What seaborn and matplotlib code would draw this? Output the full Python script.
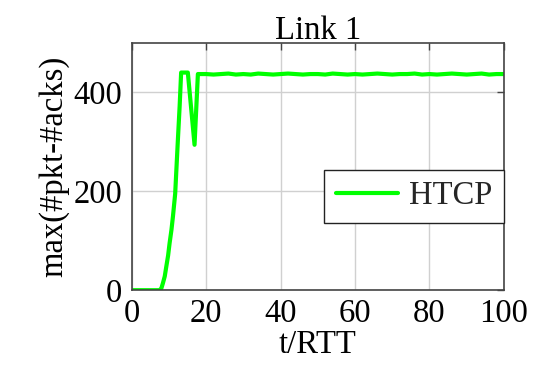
import matplotlib
matplotlib.use("Agg")
import matplotlib.pyplot as plt
import seaborn as sns
import pandas as pd

# data
t_vals = [0, 2, 4, 6, 7.5, 8.0, 8.4, 8.9, 9.3, 9.8, 10.2, 10.7, 11.1, 11.7, 12.0, 12.4, 12.9, 13.3, 15.1, 16.9, 17.8,
          20, 22, 24, 26, 28, 30, 32, 34, 36, 38, 40, 42, 44, 46, 48, 50, 52, 54, 56, 58, 60,
          62, 64, 66, 68, 70, 72, 74, 76, 78, 80, 82, 84, 86, 88, 90, 92, 94, 96, 98, 100]
htcp_vals = [0, 0, 0, 0, 0, 4, 14, 28, 47, 70, 95, 122, 149, 195, 240, 300, 372, 440, 440, 294, 437,
             437, 436, 437, 438, 436, 437, 436, 438, 437, 436, 437, 438, 437, 436, 437, 437, 436, 438, 437, 436, 437,
             436, 437, 438, 437, 436, 437, 437, 438, 436, 437, 436, 437, 438, 437, 436, 437, 438, 436, 437, 437]
series_name = "HTCP"
x_ticks = [0, 20, 40, 60, 80, 100]
y_ticks = [0, 200, 400]

sns.set_theme(style="whitegrid")
plt.rcParams["font.family"] = ["Liberation Serif", "DejaVu Serif"]

df = pd.DataFrame({"t": t_vals, "v": htcp_vals, "s": series_name})

fig = plt.figure(figsize=(5.35, 3.73), dpi=100)
ax = fig.add_axes([0.246, 0.222, 0.696, 0.663])
sns.lineplot(data=df, x="t", y="v", hue="s", palette=["#00ff00"], linewidth=3, ax=ax, legend=True)

fs = 23.5
ax.set_xlim(0, 100)
ax.set_ylim(0, 500)
ax.set_xticks(x_ticks)
ax.set_yticks(y_ticks)
ax.grid(True, color="#d0d0d0", linewidth=1)
for sp in ax.spines.values():
    sp.set_color("#444444")
    sp.set_linewidth(1.2)
ax.tick_params(direction="in", length=5, width=1, color="#444444", top=True, right=True,
               labelsize=fs, labelcolor="black")
ax.tick_params(axis="y", pad=7)
ax.tick_params(axis="x", pad=6)
ax.set_title("Link 1", fontsize=fs, pad=3, color="black")
ax.set_xlabel("t/RTT", fontsize=fs, labelpad=0, color="black")
ax.set_ylabel("max(#pkt-#acks)", fontsize=fs, labelpad=3, color="black")

leg = ax.legend(loc="center right", bbox_to_anchor=(1.0, 0.38), borderaxespad=0, fontsize=fs,
                handlelength=1.9, handletextpad=0.35, borderpad=0.35, frameon=True, fancybox=False, framealpha=1)
leg.get_frame().set_edgecolor("#222222")
leg.get_frame().set_linewidth(1)

fig.savefig("out.png", dpi=100)
